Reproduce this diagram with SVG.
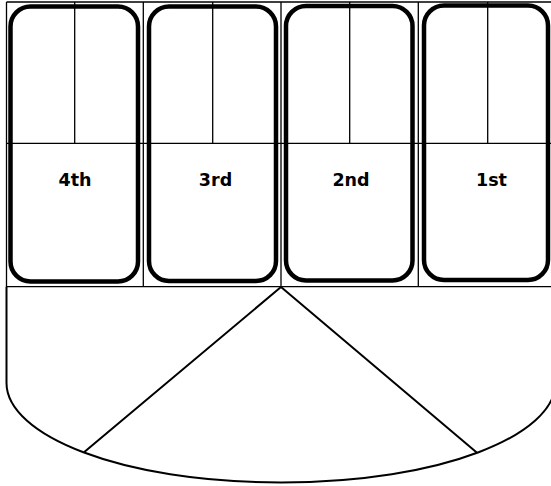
<svg xmlns="http://www.w3.org/2000/svg" width="551" height="486" viewBox="0 0 551 486">
<style>
.thin{fill:none;stroke:#000;stroke-width:1.3}
.pan{fill:none;stroke:#000;stroke-width:4.5}
.out{fill:none;stroke:#000;stroke-width:2}
.lbl{font-family:"DejaVu Sans",sans-serif;font-weight:bold;font-size:17.5px;fill:#000;text-anchor:middle}
</style>
<rect width="551" height="486" fill="#fff"/>
<g id="frame">
<path class="thin" d="M6.5 2H556M6.5 143.3H556M6.5 286.7H556M6.5 2V287M143.3 2V287M281 2V287M418.3 2V287M74.7 2V143.3M212.7 2V143.3M349.7 2V143.3M487.7 2V143.3"/>
</g>
<g id="pan-4th">
<rect class="pan" x="10.5" y="6.5" width="127.5" height="275" rx="20"/>
<text class="lbl" x="75" y="185.5">4th</text>
</g>
<g id="pan-3rd">
<rect class="pan" x="149" y="6.5" width="127" height="274.5" rx="20"/>
<text class="lbl" x="215.5" y="185.5">3rd</text>
</g>
<g id="pan-2nd">
<rect class="pan" x="286" y="6" width="126.5" height="274.5" rx="20"/>
<text class="lbl" x="351" y="185.5">2nd</text>
</g>
<g id="pan-1st">
<rect class="pan" x="424" y="5.5" width="124" height="274.5" rx="20"/>
<text class="lbl" x="491.5" y="185.5">1st</text>
</g>
<g id="bottom">
<path class="out" d="M6.5 286.7V383C6.5 435 120 482.5 281 482.5C442 482.5 555.5 435 555.5 383V286.7"/>
</g>
<g id="connectors">
<path class="out" d="M281 287L84 452.3M281 287L477 452.8"/>
</g>
</svg>
